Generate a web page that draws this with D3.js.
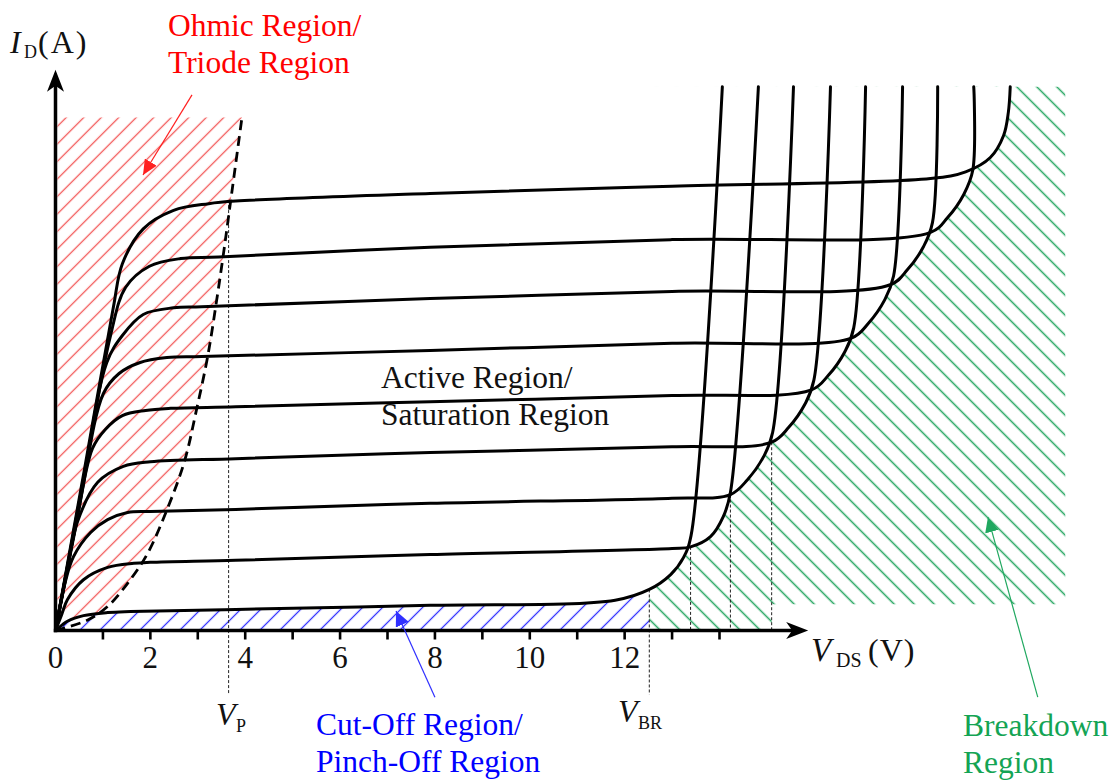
<!DOCTYPE html>
<html>
<head>
<meta charset="utf-8">
<script src="https://cdn.jsdelivr.net/npm/d3@7"></script>
<style>
  html, body { margin: 0; padding: 0; background: #fff; }
  svg { display: block; }
  text { font-family: "Liberation Serif", "Times New Roman", serif; }
</style>
</head>
<body>
<div id="chart"></div>
<script>
// JFET output characteristics: I_D vs V_DS, one curve per gate voltage.
// Values are [V_DS (V), I_D (arbitrary units)].

const gate0 = [[0,0],[0.61,3.14],[1.22,6.30],[1.41,7.15],[1.85,7.83],[2.49,8.19],[3.23,8.32],[3.8,8.37],[7.9,8.52],[13,8.66],[18.45,8.81],[19.19,8.94],[19.71,9.22],[19.99,9.65],[20.09,10.10],[20.13,10.6]]
const gate1 = [[0,0],[0.58,2.90],[1.16,5.75],[1.48,6.69],[1.98,7.10],[2.64,7.25],[3.44,7.28],[7.9,7.47],[13,7.62],[18.45,7.76],[18.81,8.05],[19.15,8.50],[19.34,8.97],[19.36,10.6]]
const gate2 = [[0,0],[0.54,2.65],[1.08,5.22],[1.41,5.75],[1.85,6.16],[2.49,6.29],[3.08,6.31],[7.9,6.47],[13,6.61],[17.6,6.74],[17.96,7.03],[18.30,7.48],[18.49,7.95],[18.6,10.6]]
const gate3 = [[0,0],[0.5,2.40],[1.01,4.62],[1.34,5.01],[1.77,5.22],[2.35,5.32],[3.08,5.34],[7.9,5.46],[13,5.60],[16.78,5.70],[17.14,5.99],[17.48,6.44],[17.67,6.91],[17.86,10.6]]
const gate4 = [[0,0],[0.39,1.85],[0.78,3.55],[1.05,3.92],[1.41,4.19],[1.90,4.29],[2.43,4.33],[3.8,4.36],[7.9,4.46],[13,4.58],[15.94,4.69],[16.30,4.98],[16.64,5.43],[16.83,5.90],[17.08,10.6]]
const gate5 = [[0,0],[0.23,1.08],[0.46,2.11],[0.89,2.89],[1.43,3.20],[2.0,3.29],[3.8,3.35],[7.9,3.47],[13,3.58],[15.10,3.67],[15.46,3.96],[15.80,4.41],[15.99,4.88],[16.34,10.6]]
const gate6 = [[0,0],[0.21,0.96],[0.38,1.44],[0.74,1.91],[1.10,2.16],[1.52,2.30],[2.0,2.32],[3.8,2.36],[7.9,2.48],[13,2.58],[14.23,2.65],[14.59,2.94],[14.93,3.39],[15.12,3.86],[15.56,10.6]]
const gate7 = [[0,0],[0.13,0.31],[0.25,0.60],[0.59,0.99],[1.10,1.23],[1.65,1.31],[2.0,1.33],[3.8,1.37],[7.9,1.48],[13,1.60],[13.39,1.63],[13.81,1.83],[14.08,2.22],[14.23,2.69],[14.82,10.6]]
const cutoff = [[0,0],[0.13,0.10],[0.25,0.18],[0.59,0.29],[1.10,0.35],[1.58,0.37],[3.8,0.41],[7.9,0.49],[11.8,0.59],[12.52,0.80],[12.97,1.09],[13.24,1.42],[13.40,1.85],[14.06,10.6]]
const curves = [gate0, gate1, gate2, gate3, gate4, gate5, gate6, gate7, cutoff]

// pinch-off locus (dashed parabola)
const pinchOff = [[0,0],[0.67,0.2],[1.1,0.47],[1.52,0.92],[1.94,1.5],[2.37,2.4],[2.72,3.3],[2.97,4.29],[3.21,5.35],[3.40,6.45],[3.55,7.4],[3.69,8.35],[3.94,10.06]]

// V_P and breakdown onsets (thin dashed verticals)
const vP = 3.65, vPTop = 8.39
const kneeV = [12.52, 13.39, 14.23, 15.10]
const kneeI = [0.80, 1.63, 2.65, 3.67]

// axis ticks
const tickMarks = [1,2,3,4,5,6,7,8,9,10,11,12,13,14]
const tickLabels = [0,2,4,6,8,10,12]

// hatched areas
const greenArea = [[12.52,0],[12.52,10.6],[21.29,10.6],[21.29,0.51],[15.10,0.51],[15.10,0]]
const redTop = 10

const W = 1118, H = 782
const x = d3.scaleLinear().domain([0, 14]).range([55.5, 719.5])
const y = d3.scaleLinear().domain([0, 10]).range([630.5, 117.5])
const vAxisEnd = 15.87, iAxisEnd = 10.93

const svg = d3.select("#chart").append("svg")
  .attr("width", W).attr("height", H)
  .style("background", "#fff")
const defs = svg.append("defs")

const smooth = d3.line().x(d => x(d[0])).y(d => y(d[1])).curve(d3.curveCatmullRom.alpha(0.5))
const straight = d3.line().x(d => x(d[0])).y(d => y(d[1]))

// --- hatch patterns: vertical lines rotated ---
function hatch(id, color, gap, angle, width) {
  const p = defs.append("pattern").attr("id", id)
    .attr("patternUnits", "userSpaceOnUse")
    .attr("width", gap).attr("height", gap)
    .attr("patternTransform", `rotate(${angle})`)
  p.append("line")
    .attr("x1", gap / 2).attr("x2", gap / 2).attr("y1", -1).attr("y2", gap + 1)
    .attr("stroke", color).attr("stroke-width", width)
}
hatch("h-red", "#f25555", 17.5 / Math.SQRT2, 45, 1.3)
hatch("h-blue", "#3a3aff", 20 / Math.SQRT2, 45, 1.3)
hatch("h-green", "#35ad6c", 20 / Math.SQRT2, -45, 1.6)

// --- red: ohmic region, left of the pinch-off locus ---
defs.append("clipPath").attr("id", "c-red-box").append("rect")
  .attr("x", x(0) + 2).attr("y", y(redTop))
  .attr("width", x(4.5) - x(0)).attr("height", y(0) - y(redTop))
defs.append("clipPath").attr("id", "c-red-curve").append("path")
  .attr("d", smooth(pinchOff) + `L${x(0)},${y(10.06)}Z`)
svg.append("g").attr("clip-path", "url(#c-red-box)")
  .append("g").attr("clip-path", "url(#c-red-curve)")
  .append("rect").attr("width", W).attr("height", H).attr("fill", "url(#h-red)")

// --- blue: cut-off region, below the last curve ---
const cutPart = cutoff.filter(d => d[0] <= kneeV[0])
const bluePath = smooth(cutPart) + `L${x(kneeV[0])},${y(0)}Z`
svg.append("path").attr("d", bluePath).attr("fill", "#fff")
svg.append("path").attr("d", bluePath).attr("fill", "url(#h-blue)")

// --- green: breakdown region, right of the curve envelope ---
const mask = defs.append("mask").attr("id", "m-green")
  .attr("maskUnits", "userSpaceOnUse").attr("x", 0).attr("y", 0).attr("width", W).attr("height", H)
mask.append("path").attr("d", straight(greenArea) + "Z").attr("fill", "#fff")
curves.forEach(c => {
  mask.append("path").attr("d", smooth(c) + `L${x(0)},${y(10.6)}Z`).attr("fill", "#000")
})
svg.append("rect").attr("width", W).attr("height", H)
  .attr("fill", "url(#h-green)").attr("mask", "url(#m-green)")

// --- thin dashed verticals ---
const thinDash = (v, i0, i1) => svg.append("line")
  .attr("x1", x(v)).attr("x2", x(v)).attr("y1", y(i0)).attr("y2", y(i1))
  .attr("stroke", "#222").attr("stroke-width", 1).attr("stroke-dasharray", "3,2")
thinDash(vP, vPTop, -1.25)
kneeV.forEach((v, i) => thinDash(v, kneeI[i], i === 0 ? -1.25 : 0))

// --- characteristic curves ---
svg.append("g").selectAll("path").data(curves).join("path")
  .attr("d", smooth)
  .attr("fill", "none").attr("stroke", "#000").attr("stroke-width", 3)
  .attr("stroke-linecap", "round").attr("stroke-linejoin", "round")

// pinch-off locus
svg.append("path").attr("d", smooth(pinchOff))
  .attr("fill", "none").attr("stroke", "#000").attr("stroke-width", 2.8)
  .attr("stroke-dasharray", "10,6")

// --- axes with arrowheads ---
const ox = x(0), oy = y(0)
const yTip = y(iAxisEnd), xTip = x(vAxisEnd)
svg.append("line").attr("x1", ox).attr("x2", ox).attr("y1", oy + 1.7).attr("y2", yTip + 14)
  .attr("stroke", "#000").attr("stroke-width", 3.5)
svg.append("line").attr("x1", ox - 1.7).attr("x2", xTip - 14).attr("y1", oy).attr("y2", oy)
  .attr("stroke", "#000").attr("stroke-width", 3.5)
svg.append("path")
  .attr("d", `M${ox},${yTip} L${ox + 8.5},${yTip + 22} L${ox},${yTip + 16} L${ox - 8.5},${yTip + 22}Z`)
  .attr("fill", "#000")
svg.append("path")
  .attr("d", `M${xTip},${oy} L${xTip - 22},${oy - 8.5} L${xTip - 16},${oy} L${xTip - 22},${oy + 8.5}Z`)
  .attr("fill", "#000")

svg.append("g").selectAll("line").data(tickMarks).join("line")
  .attr("x1", d => x(d)).attr("x2", d => x(d)).attr("y1", oy).attr("y2", oy + 9)
  .attr("stroke", "#000").attr("stroke-width", 2.6)
svg.append("g").selectAll("text").data(tickLabels).join("text")
  .attr("x", d => x(d)).attr("y", 668).attr("text-anchor", "middle")
  .attr("font-size", 31).attr("fill", "#111").text(d => d)

// --- axis titles (italic symbol + subscript) ---
function subLabel(px, py, main, sub, size, subSize, subX, dsy) {
  svg.append("text").attr("x", px).attr("y", py).attr("fill", "#111")
    .attr("font-size", size).attr("font-style", "italic").text(main)
  svg.append("text").attr("x", subX).attr("y", py + dsy).attr("fill", "#111")
    .attr("font-size", subSize).text(sub)
}
subLabel(10, 53, "I", "D", 32, 18, 24, 5)
svg.append("text").attr("x", 38).attr("y", 53).attr("font-size", 32).attr("letter-spacing", 2)
  .attr("fill", "#111").text("(A)")
subLabel(811, 661, "V", "DS", 33, 20, 836, 6)
svg.append("text").attr("x", 868).attr("y", 661).attr("font-size", 32).attr("letter-spacing", 1)
  .attr("fill", "#111").text("(V)")
subLabel(216, 725, "V", "P", 32, 18, 236, 7)
subLabel(618, 722, "V", "BR", 32, 18, 638, 7)

// --- region labels ---
function label(lines, px, py, color) {
  lines.forEach((s, i) => svg.append("text")
    .attr("x", px).attr("y", py + i * 37).attr("font-size", 31.5).attr("fill", color).text(s))
}
label(["Ohmic Region/", "Triode Region"], 168, 36, "#ff0000")
label(["Active Region/", "Saturation Region"], 381, 388, "#111")
label(["Cut-Off Region/", "Pinch-Off Region"], 316, 735, "#0000ff")
label(["Breakdown", "Region"], 963, 736, "#14a454")

// --- annotation arrows ---
function arrow(from, to, color, id) {
  defs.append("marker").attr("id", id)
    .attr("markerUnits", "userSpaceOnUse").attr("markerWidth", 16).attr("markerHeight", 14)
    .attr("refX", 15).attr("refY", 7).attr("orient", "auto")
    .append("path").attr("d", "M0,0 L15,7 L0,14 Z").attr("fill", color)
  svg.append("line")
    .attr("x1", x(from[0])).attr("y1", y(from[1])).attr("x2", x(to[0])).attr("y2", y(to[1]))
    .attr("stroke", color).attr("stroke-width", 1.2).attr("marker-end", `url(#${id})`)
}
arrow([2.878, 10.44], [1.845, 8.88], "#ff2020", "a-red")
arrow([8.0, -1.30], [7.18, 0.38], "#3030ff", "a-blue")
arrow([20.71, -1.30], [19.66, 2.21], "#20a860", "a-green")
</script>
</body>
</html>
